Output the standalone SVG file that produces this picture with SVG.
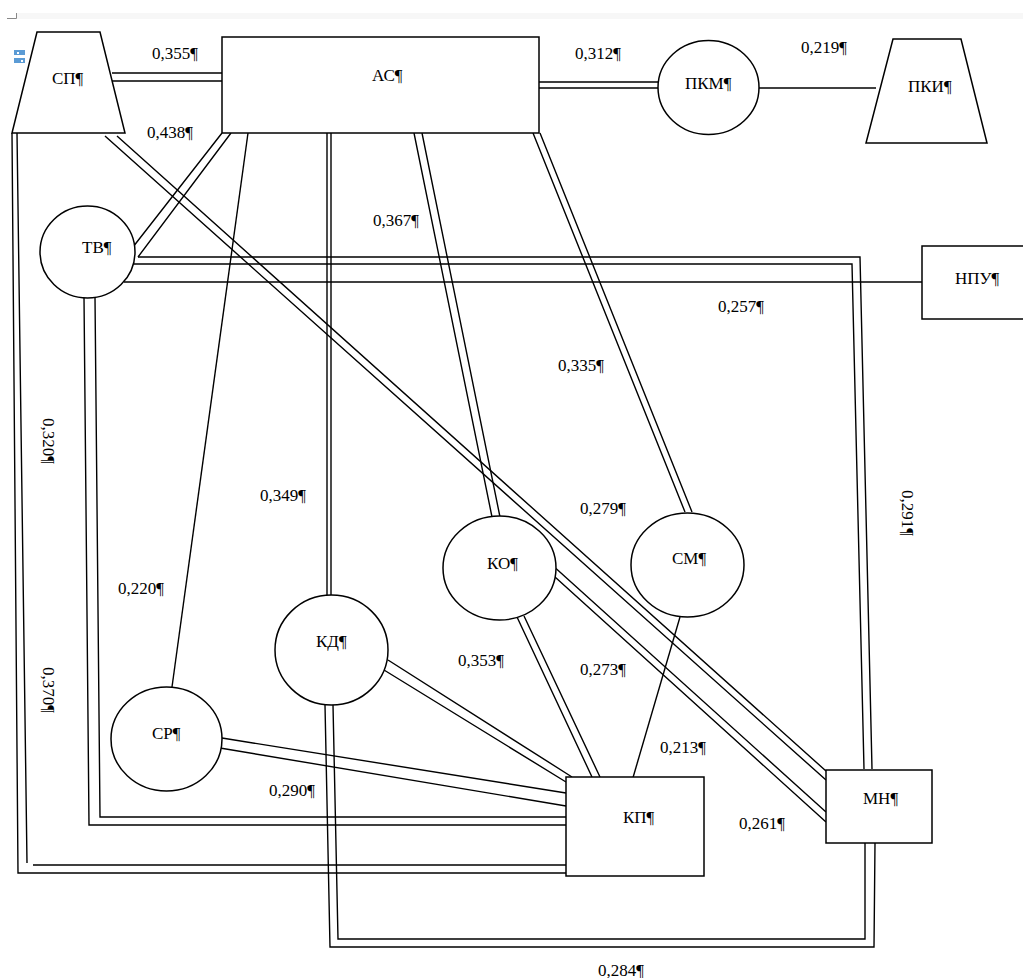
<svg xmlns="http://www.w3.org/2000/svg" width="1023" height="978" viewBox="0 0 1023 978">
<style>
.n{fill:#fff;stroke:#000;stroke-width:1.5}
.c{fill:none;stroke:#000;stroke-width:1.4}
.t{font-family:"Liberation Serif","Times New Roman",serif;font-size:17px;fill:#000}
</style>
<rect width="1023" height="978" fill="#fff"/>
<g id="page-marks">
<rect x="17" y="13" width="1006" height="6" fill="#f7f7f7"/>
<path d="M7,18.5 H16.5 V13" fill="none" stroke="#888" stroke-width="1"/>
<rect x="14" y="50" width="11" height="5" fill="#5b9bd5"/>
<rect x="14" y="58" width="11" height="5" fill="#5b9bd5"/>
<rect x="17" y="52" width="2" height="2" fill="#fff"/>
<rect x="21" y="60" width="2" height="2" fill="#fff"/>
</g>
<g id="connectors">
<!-- СП–АС -->
<path class="c" d="M112,73 H222 M112,81 H222"/>
<!-- АС–ПКМ -->
<path class="c" d="M539,82 H658 M539,88 H658"/>
<!-- ПКМ–ПКИ -->
<path class="c" d="M759,88 H876"/>
<!-- АС–ТВ -->
<path class="c" d="M222,133 L133,247 M231,133 L138,257"/>
<!-- ТВ–МН -->
<path class="c" d="M138,257 H860 L872,769 M134,264 H852 L864,769"/>
<!-- ТВ–НПУ -->
<path class="c" d="M124,282 H922"/>
<!-- СП–МН -->
<path class="c" d="M105,136 L826,780 M117,136 L826,771"/>
<!-- АС–КО -->
<path class="c" d="M414,133 L492,517 M422,133 L500,517"/>
<!-- АС–СМ -->
<path class="c" d="M533,133 L685,512 M540,133 L692,512"/>
<!-- АС–КД -->
<path class="c" d="M327,133 V595 M331,133 V595"/>
<!-- АС–СР -->
<path class="c" d="M248,133 L172,687"/>
<!-- СП–КП -->
<path class="c" d="M12,133 L18,873 H566 M17,133 L27,863 M33,865 H566"/>
<!-- ТВ–КП -->
<path class="c" d="M84,297 L89,825 H566 M95,297 L100,817 H566"/>
<!-- СР–КП -->
<path class="c" d="M222,738 L566,793 M220,748 L566,806"/>
<!-- КД–КП -->
<path class="c" d="M388,660 L572,777 M384,670 L566,782"/>
<!-- КО–КП -->
<path class="c" d="M517,617 L592,777 M524,616 L600,777"/>
<!-- СМ–КП -->
<path class="c" d="M680,617 L632,781"/>
<!-- КО–МН -->
<path class="c" d="M555,577 L826,822 M556,568.5 L826,812"/>
<!-- КД–МН -->
<path class="c" d="M325,705 L330,947 H874 L875,843 M333,705 L338,939 H865 V843"/>
</g>
<g id="labels" class="t">
<text x="152" y="59">0,355¶</text>
<text x="147" y="138">0,438¶</text>
<text x="575" y="59">0,312¶</text>
<text x="801" y="53">0,219¶</text>
<text x="373" y="226">0,367¶</text>
<text x="718" y="312">0,257¶</text>
<text x="558" y="371">0,335¶</text>
<text x="580" y="514">0,279¶</text>
<text x="260" y="501">0,349¶</text>
<text x="118" y="594">0,220¶</text>
<text x="458" y="666">0,353¶</text>
<text x="580" y="675">0,273¶</text>
<text x="660" y="753">0,213¶</text>
<text x="739" y="829">0,261¶</text>
<text x="269" y="796">0,290¶</text>
<text x="598" y="976">0,284¶</text>
<text transform="translate(43,418) rotate(90)">0,320¶</text>
<text transform="translate(43,667) rotate(90)">0,370¶</text>
<text transform="translate(902,490) rotate(90)">0,291¶</text>
</g>
<g id="node-SP"><path class="n" d="M37,32 H100 L125,133 H12 Z"/><text class="t" x="52" y="84">СП¶</text></g>
<g id="node-AS"><rect class="n" x="222" y="37" width="317" height="96"/><text class="t" x="372" y="81">АС¶</text></g>
<g id="node-PKM"><ellipse class="n" cx="708.5" cy="87.5" rx="50.5" ry="47"/><text class="t" x="685" y="89">ПКМ¶</text></g>
<g id="node-PKI"><path class="n" d="M893,39 H961 L987,143 H866 Z"/><text class="t" x="908" y="92">ПКИ¶</text></g>
<g id="node-TV"><ellipse class="n" cx="87.5" cy="252" rx="47.5" ry="46"/><text class="t" x="82" y="253">ТВ¶</text></g>
<g id="node-NPU"><rect class="n" x="922" y="246" width="110" height="73"/><text class="t" x="955" y="284">НПУ¶</text></g>
<g id="node-KO"><ellipse class="n" cx="499.5" cy="568" rx="56.5" ry="52"/><text class="t" x="487" y="569">КО¶</text></g>
<g id="node-SM"><ellipse class="n" cx="687.5" cy="565" rx="56.5" ry="52"/><text class="t" x="672" y="564">СМ¶</text></g>
<g id="node-KD"><ellipse class="n" cx="331.5" cy="650" rx="56.5" ry="55"/><text class="t" x="316" y="647">КД¶</text></g>
<g id="node-SR"><ellipse class="n" cx="166.5" cy="739" rx="55.5" ry="52"/><text class="t" x="152" y="739">СР¶</text></g>
<g id="node-KP"><rect class="n" x="566" y="777" width="138" height="99"/><text class="t" x="623" y="823">КП¶</text></g>
<g id="node-MN"><rect class="n" x="826" y="770" width="106" height="73"/><text class="t" x="863" y="804">МН¶</text></g>
</svg>
